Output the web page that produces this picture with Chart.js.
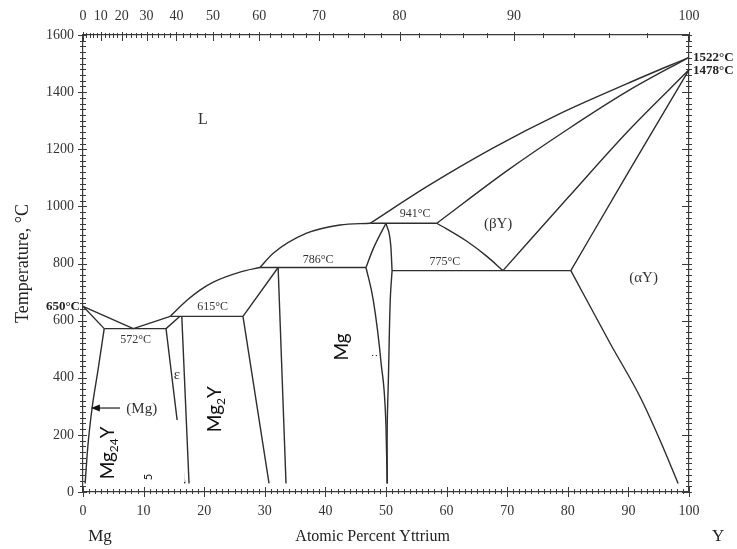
<!DOCTYPE html>
<html>
<head>
<meta charset="utf-8">
<title>Mg-Y phase diagram</title>
<script src="https://cdn.jsdelivr.net/npm/chart.js@4.4.1/dist/chart.umd.min.js"></script>
<style>
  html, body { margin: 0; padding: 0; background: #fff; }
  #wrap { width: 737px; height: 549px; }
</style>
</head>
<body>
<div id="wrap"><canvas id="phaseChart" width="737" height="549"></canvas></div>
<script>
// Molar masses, used to place the weight-percent scale on top
const MG_MASS = 24.305;
const Y_MASS = 88.906;

// Invariant temperatures (°C)
const T_MG_MELT = 650;
const T_Y_MELT = 1522;
const T_Y_TRANS = 1478;
const T_EUTECTIC = 572;
const T_EPS = 615;
const T_MG2Y = 786;
const T_MGY = 941;
const T_EUTECTOID = 775;

// Axis ticks
const atomicTicks = [0, 10, 20, 30, 40, 50, 60, 70, 80, 90, 100];
const weightTicks = [0, 10, 20, 30, 40, 50, 60, 70, 80, 90, 100];
const tempTicks = [0, 200, 400, 600, 800, 1000, 1200, 1400, 1600];

// Phase boundaries: [at.% Y, °C]
const mgLiquidus = [[0, T_MG_MELT], [8.3, T_EUTECTIC]];
const mgSolidus = [[0, T_MG_MELT], [3.5, T_EUTECTIC]];
const mgSolvus = [[0.35, 30], [0.8, 160], [1.5, 294], [2.5, 430], [3.5, T_EUTECTIC]];
const eutecticLine = [[3.5, T_EUTECTIC], [13.7, T_EUTECTIC]];
const liquidusEps = [[8.3, T_EUTECTIC], [14.4, T_EPS]];
const liquidusLow = [[14.4, T_EPS], [17.2, 672], [19.3, 707], [21.5, 735], [25.9, 770], [29.2, T_MG2Y]];
const liquidusMid = [[29.2, T_MG2Y], [31.4, 836], [36.9, 906], [42.4, 935], [47.4, T_MGY]];
const liquidusHigh = [[47.4, T_MGY], [56.8, 1070], [67.7, 1205], [78.7, 1325], [89.8, 1430], [100, T_Y_MELT]];
const epsLine = [[14.4, T_EPS], [26.4, T_EPS]];
const epsLeft = [[16.0, T_EPS], [13.7, T_EUTECTIC], [16.8, 30]];
const epsRight = [[16.3, T_EPS], [17.5, 30]];
const mg2yLeft = [[32.2, T_MG2Y], [26.4, T_EPS], [30.7, 30]];
const mg2yRight = [[32.2, T_MG2Y], [33.5, 30]];
const mg2yLine = [[29.2, T_MG2Y], [46.7, T_MG2Y]];
const mgyLeftUpper = [[46.7, T_MG2Y], [47.9, 852], [50.0, T_MGY]];
const mgyLeftLower = [[46.7, T_MG2Y], [47.9, 672], [49.2, 450], [50.0, 228], [50.2, 30]];
const mgyRightUpper = [[50.0, T_MGY], [50.8, 860], [51.0, T_EUTECTOID]];
const mgyRightLower = [[51.0, T_EUTECTOID], [50.7, 672], [50.4, 400], [50.2, 228], [50.2, 30]];
const mgyLine = [[47.4, T_MGY], [58.4, T_MGY]];
const eutectoidLine = [[51.0, T_EUTECTOID], [80.5, T_EUTECTOID]];
const betaDome = [[58.4, T_MGY], [63.4, 877], [66.7, 824], [69.3, T_EUTECTOID]];
const betaSolidus = [[58.4, T_MGY], [70, 1125], [80, 1270], [90, 1405], [100, T_Y_MELT]];
const betaAlphaLeft = [[69.3, T_EUTECTOID], [80, 1030], [90, 1265], [100, T_Y_TRANS]];
const betaAlphaRight = [[80.5, T_EUTECTOID], [90, 1120], [100, T_Y_TRANS]];
const alphaSolvus = [[80.5, T_EUTECTOID], [87, 520], [92, 330], [95.2, 182], [98.2, 30]];

const straightLines = [mgLiquidus, mgSolidus, eutecticLine, liquidusEps, epsLine, epsLeft, epsRight,
  mg2yLeft, mg2yRight, mg2yLine, mgyLine, eutectoidLine];
// curves that are single-valued in composition
const monotoneLines = [mgSolvus, liquidusLow, liquidusMid, liquidusHigh, mgyLeftUpper, mgyLeftLower,
  mgyRightUpper, betaDome, betaSolidus, betaAlphaLeft, betaAlphaRight, alphaSolvus];
const splineLines = [mgyRightLower];

const LINE_COLOR = '#2e2e2e';
const AXIS_COLOR = '#3a3a3a';
const TEXT_COLOR = '#333';
const SERIF = '"Liberation Serif", "Times New Roman", serif';
const SANS = 'Lato, "Noto Sans", sans-serif';

const wtToAt = w => {
  const a = w / Y_MASS, b = (100 - w) / MG_MASS;
  return 100 * a / (a + b);
};

function toDataset(line, mode) {
  return {
    data: line.map(p => ({ x: p[0], y: p[1] })),
    showLine: true,
    borderColor: LINE_COLOR,
    borderWidth: 1.4,
    pointRadius: 0,
    tension: mode === 'straight' ? 0 : 0.35,
    cubicInterpolationMode: mode === 'monotone' ? 'monotone' : 'default',
    clip: false
  };
}

// Tick marks on all four sides, majors crossing the frame
const axisTicks = {
  id: 'axisTicks',
  afterDraw(chart) {
    const { ctx, chartArea: a, scales } = chart;
    ctx.save();
    ctx.strokeStyle = AXIS_COLOR;
    ctx.lineWidth = 1;
    const seg = (x1, y1, x2, y2) => { ctx.beginPath(); ctx.moveTo(x1, y1); ctx.lineTo(x2, y2); ctx.stroke(); };
    for (let v = 0; v <= 100; v++) {
      const px = Math.round(scales.x.getPixelForValue(v)) + 0.5;
      const major = atomicTicks.includes(v);
      seg(px, a.bottom - (major ? 5 : 3), px, a.bottom + (major ? 5 : 2));
    }
    for (let w = 0; w <= 100; w += 2) {
      const px = Math.round(scales.x2.getPixelForValue(wtToAt(w))) + 0.5;
      const major = weightTicks.includes(w);
      seg(px, a.top - (major ? 3 : 2), px, a.top + (major ? 6 : 3));
    }
    for (let t = 0; t <= 1600; t += 20) {
      const py = Math.round(scales.y.getPixelForValue(t)) + 0.5;
      const major = tempTicks.includes(t);
      seg(a.left - (major ? 5 : 3), py, a.left + (major ? 4 : 3), py);
      seg(a.right - (major ? 7 : 3), py, a.right + 3, py);
    }
    ctx.restore();
  }
};

function rotatedLabel(ctx, parts, cx, cy) {
  ctx.save();
  ctx.translate(cx, cy);
  ctx.rotate(-Math.PI / 2);
  ctx.textAlign = 'left';
  ctx.textBaseline = 'alphabetic';
  ctx.fillStyle = '#111';
  let total = 0;
  parts.forEach(p => { ctx.font = p.size + 'px ' + SANS; p.w = ctx.measureText(p.t).width; total += p.w; });
  let x0 = -total / 2;
  parts.forEach(p => {
    ctx.font = p.size + 'px ' + SANS;
    ctx.fillText(p.t, x0, 7 + (p.dy || 0));
    x0 += p.w;
  });
  ctx.restore();
}

// Region names, invariant temperatures and the axis end labels
const phaseLabels = {
  id: 'phaseLabels',
  afterDatasetsDraw(chart) {
    const { ctx, chartArea: a, scales: { x, y } } = chart;
    const X = v => x.getPixelForValue(v), Y = v => y.getPixelForValue(v);
    const put = (str, px, py, size, opts = {}) => {
      ctx.font = (opts.bold ? 'bold ' : '') + size + 'px ' + (opts.family || SERIF);
      ctx.fillStyle = opts.color || TEXT_COLOR;
      ctx.textAlign = opts.align || 'center';
      ctx.textBaseline = 'middle';
      ctx.fillText(str, px, py);
    };
    ctx.save();

    // pasted label patches
    ctx.fillStyle = '#fff';
    ctx.fillRect(X(2.1), Y(252), X(16.8) - X(2.1), Y(35) - Y(252));
    ctx.fillRect(X(39.9), Y(595), X(47.2) - X(39.9), Y(452) - Y(595));

    put('L', X(19.8), Y(1302), 16);
    put('(\u03B2Y)', X(68.5), Y(938), 15);
    put('(\u03B1Y)', X(92.5), Y(749), 15);
    put(T_MGY + '\u00B0C', X(54.8), Y(975), 12);
    put(T_MG2Y + '\u00B0C', X(38.8), Y(812), 12);
    put(T_EUTECTOID + '\u00B0C', X(59.7), Y(805), 12);
    put(T_EPS + '\u00B0C', X(21.4), Y(648), 12);
    put(T_EUTECTIC + '\u00B0C', X(8.7), Y(532), 12);
    put('\u03B5', X(15.5), Y(410), 15);
    put('(Mg)', X(9.7), Y(290), 15);

    // arrow pointing at the (Mg) solvus
    const ay = Y(294), ax0 = X(6.1), ax1 = X(1.3);
    ctx.strokeStyle = LINE_COLOR;
    ctx.lineWidth = 1.3;
    ctx.beginPath(); ctx.moveTo(ax0, ay); ctx.lineTo(ax1 + 6, ay); ctx.stroke();
    ctx.fillStyle = '#111';
    ctx.beginPath(); ctx.moveTo(ax1, ay); ctx.lineTo(ax1 + 9, ay - 3.5); ctx.lineTo(ax1 + 9, ay + 3.5); ctx.closePath(); ctx.fill();

    put(T_MG_MELT + '\u00B0C', a.left - 3, Y(T_MG_MELT), 13, { bold: true, align: 'right', color: '#222' });
    put(T_Y_MELT + '\u00B0C', a.right + 4, Y(T_Y_MELT), 13, { bold: true, align: 'left', color: '#222' });
    put(T_Y_TRANS + '\u00B0C', a.right + 4, Y(T_Y_TRANS) + 1, 13, { bold: true, align: 'left', color: '#222' });

    rotatedLabel(ctx, [{ t: 'Mg', size: 19 }, { t: '24', size: 12, dy: 4 }, { t: 'Y', size: 19 }], X(4.0), Y(137));
    rotatedLabel(ctx, [{ t: '5', size: 11 }], X(10.2), Y(52));
    rotatedLabel(ctx, [{ t: 'Mg', size: 19 }, { t: '2', size: 12, dy: 4 }, { t: 'Y', size: 19 }], X(21.6), Y(290));
    rotatedLabel(ctx, [{ t: 'Mg', size: 19 }], X(42.6), Y(508));
    rotatedLabel(ctx, [{ t: ':', size: 10 }], X(47.3), Y(478));

    put('Mg', X(2.8), a.bottom + 45, 17, { color: '#222' });
    put('Atomic Percent Yttrium', X(47.8), a.bottom + 45, 16, { color: '#222' });
    put('Y', X(104.8), a.bottom + 45, 17, { color: '#222' });
    ctx.restore();
  }
};

const tickFont = { family: SERIF, size: 14 };

new Chart(document.getElementById('phaseChart'), {
  type: 'scatter',
  data: {
    datasets: [
      ...straightLines.map(l => toDataset(l, 'straight')),
      ...monotoneLines.map(l => toDataset(l, 'monotone')),
      ...splineLines.map(l => toDataset(l, 'spline'))
    ]
  },
  options: {
    responsive: false,
    animation: false,
    events: [],
    layout: { padding: 0 },
    plugins: { legend: { display: false }, tooltip: { enabled: false } },
    scales: {
      x: {
        type: 'linear', position: 'bottom', min: 0, max: 100,
        afterBuildTicks: s => { s.ticks = atomicTicks.map(v => ({ value: v })); },
        ticks: { autoSkip: false, maxRotation: 0, padding: 11, font: tickFont, color: TEXT_COLOR,
          callback: v => String(v) },
        grid: { display: false, drawTicks: false },
        border: { display: true, color: AXIS_COLOR, width: 1.2 },
        afterFit: s => { s.height = 57; s.paddingLeft = 0; s.paddingRight = 0; }
      },
      x2: {
        type: 'linear', position: 'top', min: 0, max: 100,
        afterBuildTicks: s => { s.ticks = weightTicks.map(w => ({ value: wtToAt(w) })); },
        ticks: { autoSkip: false, maxRotation: 0, padding: 10, font: tickFont, color: TEXT_COLOR,
          callback: (v, i) => String(weightTicks[i]) },
        grid: { display: false, drawTicks: false },
        border: { display: true, color: AXIS_COLOR, width: 1.2 },
        afterFit: s => { s.height = 35; s.paddingLeft = 0; s.paddingRight = 0; }
      },
      y: {
        type: 'linear', position: 'left', min: 0, max: 1600,
        afterBuildTicks: s => { s.ticks = tempTicks.map(v => ({ value: v })); },
        ticks: { autoSkip: false, padding: 9, font: tickFont, color: TEXT_COLOR,
          callback: v => String(v) },
        grid: { display: false, drawTicks: false },
        border: { display: true, color: AXIS_COLOR, width: 1.2 },
        title: { display: true, text: 'Temperature, \u00B0C', font: { family: SERIF, size: 18 }, color: '#222',
          padding: { top: 12, bottom: 0 } },
        afterFit: s => { s.width = 83; s.paddingTop = 0; s.paddingBottom = 0; }
      },
      y2: {
        type: 'linear', position: 'right', min: 0, max: 1600,
        ticks: { display: false },
        grid: { display: false, drawTicks: false },
        border: { display: true, color: AXIS_COLOR, width: 1.2 },
        afterFit: s => { s.width = 48; s.paddingTop = 0; s.paddingBottom = 0; }
      }
    }
  },
  plugins: [axisTicks, phaseLabels]
});
</script>
</body>
</html>
